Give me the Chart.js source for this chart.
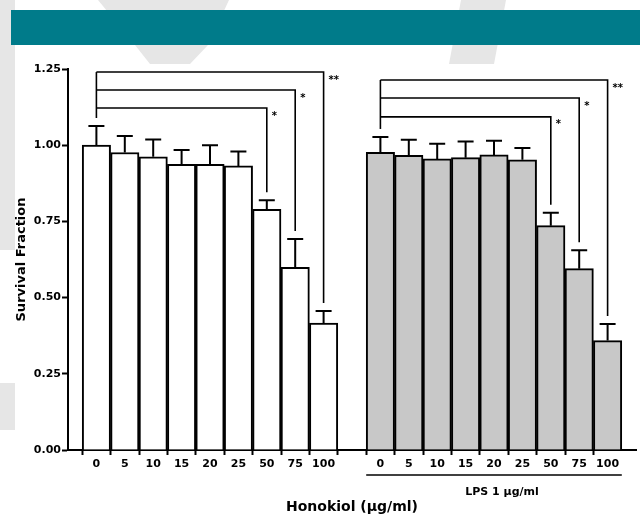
<!DOCTYPE html>
<html>
<head>
<meta charset="utf-8">
<script src="https://cdn.jsdelivr.net/npm/chart.js@4.4.1/dist/chart.umd.min.js"></script>
<style>
html,body{margin:0;padding:0;background:#fff;}
#wrap{position:relative;width:640px;height:518px;}
canvas{display:block;}
</style>
</head>
<body>
<div id="wrap"><canvas id="c" width="640" height="518"></canvas></div>
<script>
// ---- data ----
const doseLabels = ['0','5','10','15','20','25','50','75','100'];
const honokiolMeans = [1.000,0.976,0.962,0.937,0.937,0.932,0.790,0.599,0.416];
const honokiolSEM   = [0.063,0.054,0.057,0.047,0.063,0.047,0.029,0.093,0.040];
const lpsMeans      = [0.977,0.967,0.955,0.959,0.968,0.952,0.736,0.595,0.359];
const lpsSEM        = [0.050,0.051,0.050,0.053,0.047,0.039,0.042,0.060,0.054];
const yTickValues   = [0,0.25,0.5,0.75,1.0,1.25];
const compareTargets = ['50','75','100'];
const compareMarks   = ['*','*','**'];
const groupLabel = 'LPS 1 μg/ml';

// ---- build category layout: blank | 9 doses | blank | 9 doses | blank ----
const xLabels = [''].concat(doseLabels, [''], doseLabels, ['']);
const leftStart = 1, rightStart = doseLabels.length + 2;
const blanks = n => new Array(n).fill(null);
const ctrlData = [null].concat(honokiolMeans, [null], blanks(doseLabels.length), [null]);
const lpsData  = [null].concat(blanks(doseLabels.length), [null], lpsMeans, [null]);
const ctrlErr  = [null].concat(honokiolSEM, [null], blanks(doseLabels.length), [null]);
const lpsErr   = [null].concat(blanks(doseLabels.length), [null], lpsSEM, [null]);

const FONT = 'DejaVu Sans';

const decorPlugin = {
  id: 'decor',
  beforeDraw(chart) {
    const ctx = chart.ctx;
    ctx.save();
    ctx.fillStyle = '#fff';
    ctx.fillRect(0, 0, chart.width, chart.height);
    // faint watermark shapes around the figure
    ctx.fillStyle = '#e6e6e6';
    const polys = [
      [[0,0],[15,0],[15,250],[0,250]],
      [[0,383],[15,383],[15,430],[0,430]],
      [[98,0],[229,0],[208,45],[190,64],[150,64],[135,45]],
      [[461,0],[506,0],[494,64],[449,64]]
    ];
    polys.forEach(p => {
      ctx.beginPath();
      ctx.moveTo(p[0][0], p[0][1]);
      for (let i = 1; i < p.length; i++) ctx.lineTo(p[i][0], p[i][1]);
      ctx.closePath();
      ctx.fill();
    });
    ctx.fillStyle = '#fff';
    ctx.fillRect(15, 64, chart.width - 15, chart.height - 64);
    // banner
    ctx.fillStyle = '#007b8a';
    ctx.fillRect(11, 10, chart.width - 11, 35);
    ctx.restore();
  },
  afterDatasetsDraw(chart, args, opts) {
    const ctx = chart.ctx;
    const xs = chart.scales.x, ys = chart.scales.y;
    ctx.save();
    ctx.strokeStyle = '#000';
    // error bars (upper only)
    const errSets = [[ctrlData, ctrlErr], [lpsData, lpsErr]];
    ctx.lineWidth = 2;
    errSets.forEach(([m, e]) => {
      m.forEach((v, i) => {
        if (v === null) return;
        const x = xs.getPixelForValue(i);
        const y0 = ys.getPixelForValue(v);
        const y1 = ys.getPixelForValue(v + e[i]);
        ctx.beginPath();
        ctx.moveTo(x, y0); ctx.lineTo(x, y1);
        ctx.moveTo(x - 8, y1); ctx.lineTo(x + 8, y1);
        ctx.stroke();
      });
    });
    // significance brackets
    const groups = [
      {start: leftStart, means: honokiolMeans, sem: honokiolSEM, levels: opts.leftLevels},
      {start: rightStart, means: lpsMeans, sem: lpsSEM, levels: opts.rightLevels}
    ];
    ctx.lineWidth = 1.6;
    ctx.font = 'bold 10px "' + FONT + '"';
    ctx.fillStyle = '#000';
    ctx.textAlign = 'left';
    ctx.textBaseline = 'middle';
    groups.forEach(g => {
      const x0 = xs.getPixelForValue(g.start);
      const topY = ys.getPixelForValue(Math.max(...g.levels));
      const baseCap = ys.getPixelForValue(g.means[0] + g.sem[0]);
      ctx.beginPath();
      ctx.moveTo(x0, topY); ctx.lineTo(x0, baseCap - 8);
      ctx.stroke();
      compareTargets.forEach((lab, k) => {
        const di = doseLabels.indexOf(lab);
        const xt = xs.getPixelForValue(g.start + di);
        const y = ys.getPixelForValue(g.levels[k]);
        const capY = ys.getPixelForValue(g.means[di] + g.sem[di]);
        ctx.beginPath();
        ctx.moveTo(x0, y); ctx.lineTo(xt, y); ctx.lineTo(xt, capY - 8);
        ctx.stroke();
        ctx.fillText(compareMarks[k], xt + 5, y + 8);
      });
    });
    ctx.restore();
  },
  afterDraw(chart) {
    const ctx = chart.ctx;
    const xs = chart.scales.x;
    const half = (xs.getPixelForValue(1) - xs.getPixelForValue(0)) / 2;
    const xa = xs.getPixelForValue(rightStart) - half;
    const xb = xs.getPixelForValue(rightStart + doseLabels.length - 1) + half;
    ctx.save();
    ctx.strokeStyle = '#000';
    ctx.lineWidth = 1.5;
    ctx.beginPath();
    ctx.moveTo(xa, 475); ctx.lineTo(xb, 475);
    ctx.stroke();
    ctx.fillStyle = '#000';
    ctx.font = 'bold 11px "' + FONT + '"';
    ctx.textAlign = 'center';
    ctx.textBaseline = 'middle';
    ctx.fillText(groupLabel, (xa + xb) / 2 + 8, 492);
    ctx.restore();
  }
};

new Chart(document.getElementById('c'), {
  type: 'bar',
  data: {
    labels: xLabels,
    datasets: [
      {label: 'Honokiol', data: ctrlData, backgroundColor: '#ffffff', borderColor: '#000', borderWidth: 2, borderSkipped: 'bottom', grouped: false, barPercentage: 1, categoryPercentage: 1},
      {label: 'Honokiol + LPS', data: lpsData, backgroundColor: '#c8c8c8', borderColor: '#000', borderWidth: 2, borderSkipped: 'bottom', grouped: false, barPercentage: 1, categoryPercentage: 1}
    ]
  },
  options: {
    responsive: false,
    devicePixelRatio: 1,
    animation: false,
    layout: {padding: {top: 69, right: 4, left: 0, bottom: 0}},
    plugins: {
      legend: {display: false},
      tooltip: {enabled: false},
      decor: {leftLevels: [1.122, 1.181, 1.240], rightLevels: [1.093, 1.155, 1.214]}
    },
    scales: {
      x: {
        type: 'category',
        offset: false,
        z: 1,
        grid: {drawOnChartArea: false, drawTicks: true, tickLength: 5, tickWidth: 2,
               tickColor: c => (c.index === xLabels.length - 1 ? 'rgba(0,0,0,0)' : '#000')},
        border: {display: true, color: '#000', width: 2},
        ticks: {autoSkip: false, maxRotation: 0, minRotation: 0, padding: 3, color: '#000',
                font: {family: FONT, weight: 'bold', size: 11}},
        title: {display: true, text: 'Honokiol (μg/ml)', color: '#000',
                font: {family: FONT, weight: 'bold', size: 14}, padding: {top: 0, bottom: 2}},
        afterFit: s => { s.height = 68; }
      },
      y: {
        min: 0, max: 1.25,
        z: 1,
        grid: {drawOnChartArea: false, drawTicks: true, tickLength: 6, tickWidth: 2, tickColor: '#000'},
        border: {display: true, color: '#000', width: 2},
        afterBuildTicks: s => { s.ticks = yTickValues.map(v => ({value: v})); },
        ticks: {padding: 1, color: '#000', font: {family: FONT, weight: 'bold', size: 11},
                callback: v => Number(v).toFixed(2)},
        title: {display: true, text: 'Survival Fraction', color: '#000',
                font: {family: FONT, weight: 'bold', size: 13}, padding: {top: 14, bottom: 0}},
        afterFit: s => { s.width = 68; }
      }
    }
  },
  plugins: [decorPlugin]
});
</script>
</body>
</html>
